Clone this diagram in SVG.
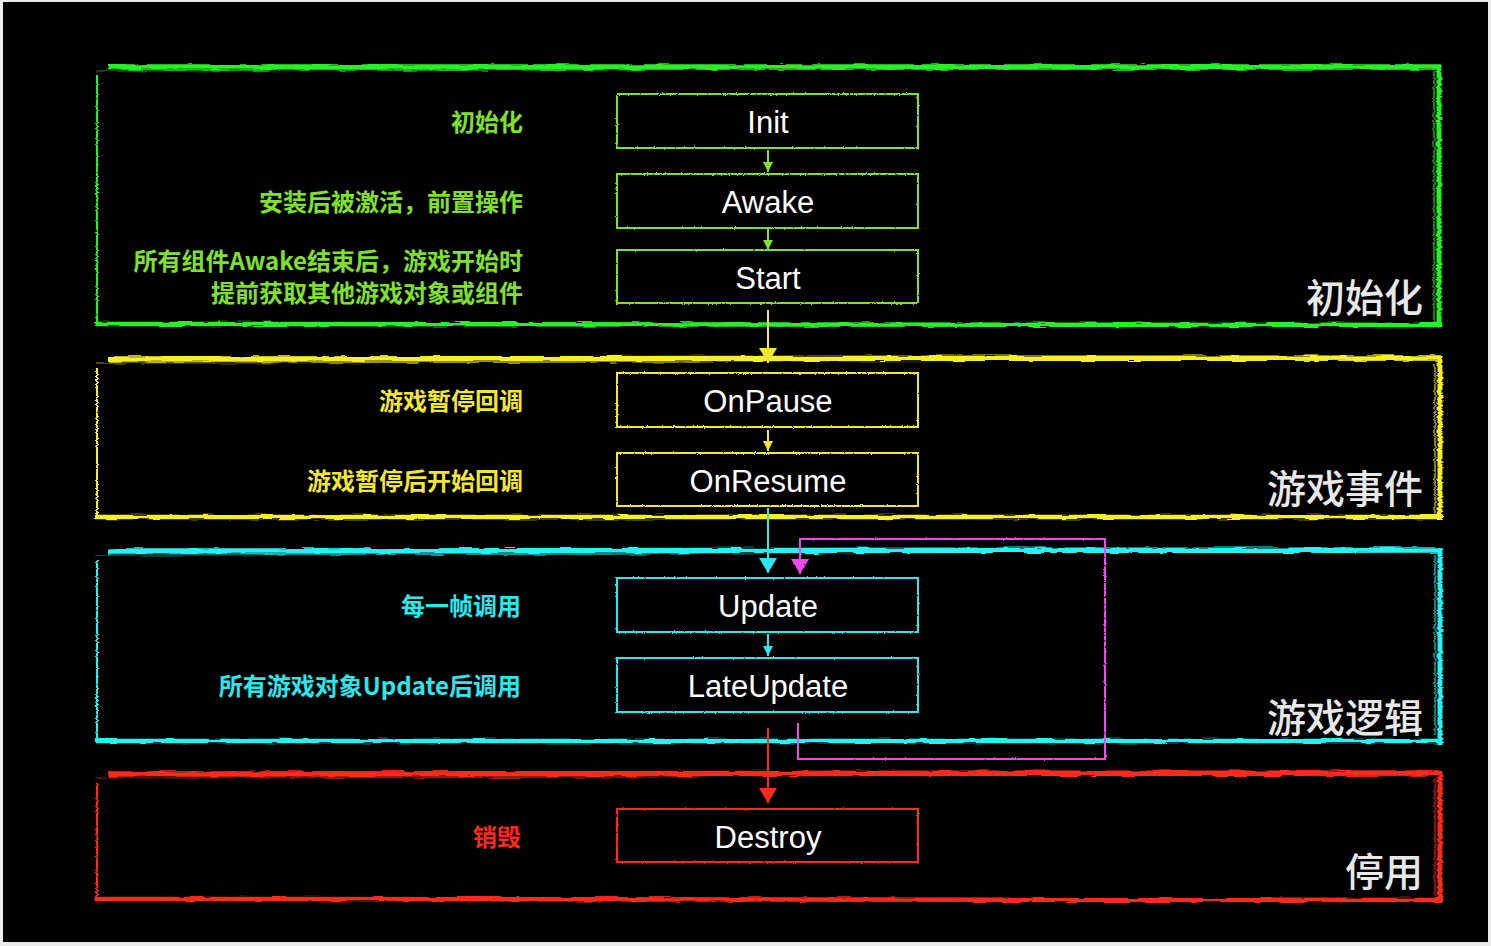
<svg xmlns="http://www.w3.org/2000/svg" width="1491" height="946" viewBox="0 0 1491 946">
<defs>
<filter id="rough" filterUnits="userSpaceOnUse" x="0" y="0" width="1491" height="946">
<feTurbulence type="fractalNoise" baseFrequency="0.9" numOctaves="1" seed="3" result="n"/>
<feDisplacementMap in="SourceGraphic" in2="n" scale="2.5" xChannelSelector="R" yChannelSelector="G"/>
</filter>
<filter id="rough2" filterUnits="userSpaceOnUse" x="0" y="0" width="1491" height="946">
<feTurbulence type="fractalNoise" baseFrequency="0.04 0.5" numOctaves="2" seed="7" result="n"/>
<feDisplacementMap in="SourceGraphic" in2="n" scale="4" xChannelSelector="R" yChannelSelector="G"/>
</filter>
<marker id="aG" markerUnits="userSpaceOnUse" markerWidth="12" markerHeight="10" refX="10" refY="5" orient="auto"><path d="M0,0 L10,5 L0,10 Z" fill="#80e030"/></marker>
<marker id="aY" markerUnits="userSpaceOnUse" markerWidth="12" markerHeight="10" refX="10" refY="5" orient="auto"><path d="M0,0 L10,5 L0,10 Z" fill="#f2e832"/></marker>
<marker id="aC" markerUnits="userSpaceOnUse" markerWidth="12" markerHeight="10" refX="10" refY="5" orient="auto"><path d="M0,0 L10,5 L0,10 Z" fill="#2ae8ee"/></marker>
<marker id="bY" markerUnits="userSpaceOnUse" markerWidth="16" markerHeight="20" refX="15" refY="9" orient="auto"><path d="M0,0 L15,9 L0,18 Z" fill="#f2e832"/></marker>
<marker id="bC" markerUnits="userSpaceOnUse" markerWidth="16" markerHeight="20" refX="15" refY="9" orient="auto"><path d="M0,0 L15,9 L0,18 Z" fill="#2ae8ee"/></marker>
<marker id="bM" markerUnits="userSpaceOnUse" markerWidth="16" markerHeight="20" refX="15" refY="9" orient="auto"><path d="M0,0 L15,9 L0,18 Z" fill="#f046ee"/></marker>
<marker id="bR" markerUnits="userSpaceOnUse" markerWidth="16" markerHeight="20" refX="15" refY="9" orient="auto"><path d="M0,0 L15,9 L0,18 Z" fill="#ff2a1e"/></marker>
</defs>
<style>
.node rect{fill:none;stroke-width:2;filter:url(#rough)}
.node text{font-family:"Liberation Sans",Arial,sans-serif;font-size:31px;fill:#ffffff;text-anchor:middle;dominant-baseline:central}
.lbl{font-family:"Noto Sans CJK SC","Noto Sans",sans-serif;font-size:24px;font-weight:700;text-anchor:end;dominant-baseline:central}
.big{font-family:"Noto Sans CJK SC","Noto Sans",sans-serif;font-size:39px;font-weight:500;fill:#e8e8e8;text-anchor:end;dominant-baseline:central}
.frame path{fill:none;filter:url(#rough2)}
.g{stroke:#26f026}.y{stroke:#f7ee2a}.c{stroke:#26f2f2}.r{stroke:#ff2a1e}
.gl{fill:#80e030}.yl{fill:#f2e832}.cl{fill:#2ae8ee}.rl{fill:#ff2a1e}
.conn line,.conn path{fill:none;stroke-width:2}
</style>
<rect x="0" y="0" width="1491" height="946" fill="#ececec"/>
<rect x="3" y="2" width="1485" height="940" fill="#000000"/>

<g id="group-init" class="frame">
<path class="g" d="M108,67 L1441,67" stroke-width="5.5"/>
<path class="g" d="M96,71 L640,70" stroke-width="1.2" opacity="0.6"/>
<path class="g" d="M1439,65 L1439,327" stroke-width="5"/>
<path class="g" d="M1434,72 L1434,322" stroke-width="1.5" opacity="0.7"/>
<path class="g" d="M95,324 L1442,325" stroke-width="4.5"/>
<path class="g" d="M97,75 L97,326" stroke-width="2"/>
<text class="big" x="1423" y="295">初始化</text>
</g>

<g id="group-event" class="frame">
<path class="y" d="M108,359 L1441,358" stroke-width="5.5"/>
<path class="y" d="M96,363 L700,362" stroke-width="1.2" opacity="0.6"/>
<path class="y" d="M1440,356 L1440,520" stroke-width="5"/>
<path class="y" d="M1435,364 L1435,514" stroke-width="1.5" opacity="0.7"/>
<path class="y" d="M95,517 L1443,517" stroke-width="4.5"/>
<path class="y" d="M97,368 L97,519" stroke-width="2"/>
<text class="big" x="1423" y="486">游戏事件</text>
</g>

<g id="group-logic" class="frame">
<path class="c" d="M108,551 L1441,550" stroke-width="5.5"/>
<path class="c" d="M96,555 L700,554" stroke-width="1.2" opacity="0.6"/>
<path class="c" d="M1440,548 L1440,744" stroke-width="5"/>
<path class="c" d="M1435,556 L1435,736" stroke-width="1.5" opacity="0.7"/>
<path class="c" d="M95,741 L1443,741" stroke-width="4.5"/>
<path class="c" d="M97,560 L97,742" stroke-width="2"/>
<text class="big" x="1423" y="715">游戏逻辑</text>
</g>

<g id="group-stop" class="frame">
<path class="r" d="M108,774 L1441,773" stroke-width="5.5"/>
<path class="r" d="M96,778 L700,777" stroke-width="1.2" opacity="0.6"/>
<path class="r" d="M1440,771 L1440,902" stroke-width="5"/>
<path class="r" d="M1435,779 L1435,896" stroke-width="1.5" opacity="0.7"/>
<path class="r" d="M95,899 L1443,900" stroke-width="4.5"/>
<path class="r" d="M97,783 L97,901" stroke-width="2"/>
<text class="big" x="1423" y="869">停用</text>
</g>

<g id="labels">
<text class="lbl gl" x="523" y="120">初始化</text>
<text class="lbl gl" x="523" y="200">安装后被激活，前置操作</text>
<text class="lbl gl" x="523" y="259">所有组件Awake结束后，游戏开始时</text>
<text class="lbl gl" x="523" y="291">提前获取其他游戏对象或组件</text>
<text class="lbl yl" x="523" y="399">游戏暂停回调</text>
<text class="lbl yl" x="523" y="479">游戏暂停后开始回调</text>
<text class="lbl cl" x="521" y="604">每一帧调用</text>
<text class="lbl cl" x="521" y="684">所有游戏对象Update后调用</text>
<text class="lbl rl" x="521" y="835">销毁</text>
</g>

<g id="node-init" class="node"><rect x="617" y="94" width="301" height="54" stroke="#80e030"/><text x="768" y="122">Init</text></g>
<g id="node-awake" class="node"><rect x="617" y="174" width="301" height="54" stroke="#80e030"/><text x="768" y="202">Awake</text></g>
<g id="node-start" class="node"><rect x="617" y="250" width="301" height="53" stroke="#80e030"/><text x="768" y="278">Start</text></g>
<g id="node-onpause" class="node"><rect x="617" y="373" width="301" height="54" stroke="#f2e832"/><text x="768" y="401">OnPause</text></g>
<g id="node-onresume" class="node"><rect x="617" y="453" width="301" height="53" stroke="#f2e832"/><text x="768" y="481">OnResume</text></g>
<g id="node-update" class="node"><rect x="617" y="578" width="301" height="54" stroke="#2ae8ee"/><text x="768" y="606">Update</text></g>
<g id="node-lateupdate" class="node"><rect x="617" y="658" width="301" height="54" stroke="#2ae8ee"/><text x="768" y="686">LateUpdate</text></g>
<g id="node-destroy" class="node"><rect x="617" y="809" width="301" height="53" stroke="#ff2a1e"/><text x="768" y="837">Destroy</text></g>

<g id="connectors" class="conn">
<line x1="768" y1="150" x2="768" y2="172" stroke="#80e030" stroke-width="1.5" marker-end="url(#aG)"/>
<line x1="768" y1="229" x2="768" y2="250" stroke="#80e030" stroke-width="1.5" marker-end="url(#aG)"/>
<line x1="768" y1="310" x2="768" y2="363" stroke="#f2e832" marker-end="url(#bY)"/>
<line x1="768" y1="430" x2="768" y2="451" stroke="#f2e832" stroke-width="1.5" marker-end="url(#aY)"/>
<line x1="768" y1="508" x2="768" y2="573" stroke="#2ae8ee" marker-end="url(#bC)"/>
<path d="M798,723 V759 H1105 V539 H800 V574" stroke="#f046ee" stroke-width="2.5" marker-end="url(#bM)" filter="url(#rough)"/>
<line x1="768" y1="634" x2="768" y2="656" stroke="#2ae8ee" stroke-width="1.5" marker-end="url(#aC)"/>
<line x1="768" y1="728" x2="768" y2="803" stroke="#ff2a1e" marker-end="url(#bR)"/>
</g>
</svg>
